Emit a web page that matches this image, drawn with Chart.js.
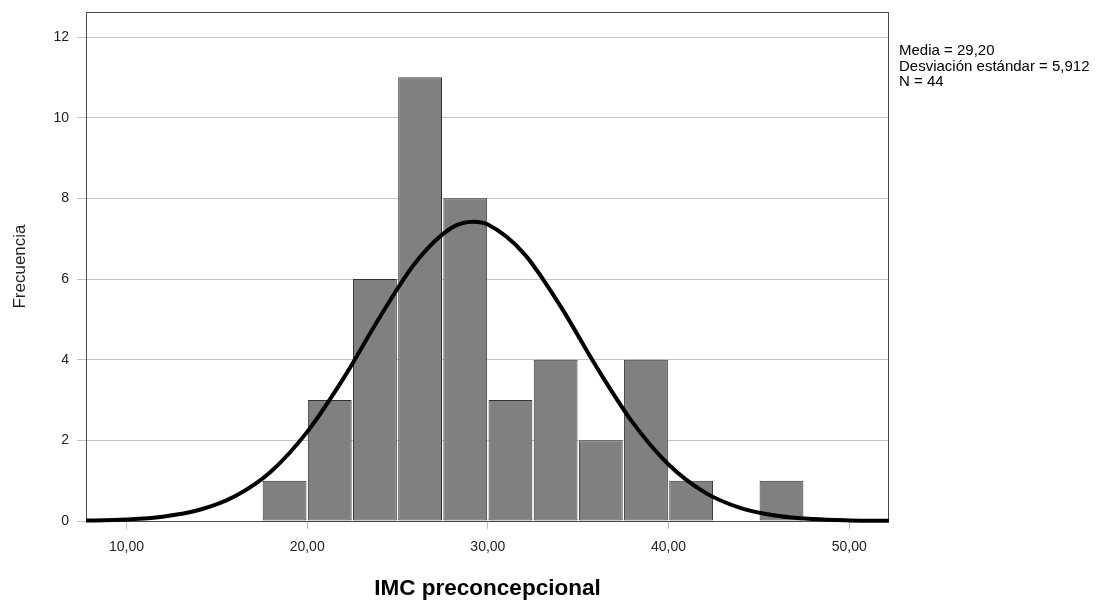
<!DOCTYPE html>
<html>
<head>
<meta charset="utf-8">
<script src="https://cdn.jsdelivr.net/npm/chart.js@4.4.1/dist/chart.umd.min.js"></script>
<style>
  html, body { margin: 0; padding: 0; background: #fff; }
  canvas { display: block; }
</style>
</head>
<body>
<canvas id="c" width="1099" height="603"></canvas>
<script>
// ---- data ----
const binCenters = [18.75, 21.25, 23.75, 26.25, 28.75, 31.25, 33.75, 36.25, 38.75, 41.25, 43.75, 46.25];
const frequencies = [1, 3, 6, 11, 8, 3, 4, 2, 4, 1, 0, 1];
const curveX = [6, 8, 10, 12, 14, 16, 18, 20, 22, 24, 26, 28, 29.2, 30, 32, 34, 36, 38, 40, 42, 44, 46, 48, 50, 52, 54];
const curveY = [0.003, 0.012, 0.038, 0.108, 0.272, 0.614, 1.23, 2.21, 3.53, 5.04, 6.41, 7.27, 7.42, 7.35, 6.63, 5.34, 3.83, 2.45, 1.40, 0.71, 0.32, 0.13, 0.047, 0.015, 0.004, 0.001];
const xTickValues = [10, 20, 30, 40, 50];
const yTickValues = [0, 2, 4, 6, 8, 10, 12];
const statsLines = ['Media = 29,20', 'Desviación estándar = 5,912', 'N = 44'];
const xTitle = 'IMC preconcepcional';
const yTitle = 'Frecuencia';

const FONT = '"Liberation Sans", Arial, sans-serif';

const framePlugin = {
  id: 'frame',
  beforeDatasetsDraw(chart) {
    const {ctx, chartArea: a} = chart;
    ctx.save();
    ctx.strokeStyle = '#4a4a4a';
    ctx.lineWidth = 1;
    ctx.strokeRect(Math.round(a.left) + 0.5, Math.round(a.top) + 0.5,
                   Math.round(a.right - a.left) - 1, Math.round(a.bottom - a.top));
    ctx.restore();
  },
  afterDraw(chart) {
    const {ctx, chartArea: a} = chart;
    ctx.save();
    ctx.fillStyle = '#000';
    ctx.font = '15px ' + FONT;
    ctx.textAlign = 'left';
    ctx.textBaseline = 'alphabetic';
    statsLines.forEach((t, i) => ctx.fillText(t, a.right + 10, 55 + i * 15.5));
    ctx.restore();
  }
};

new Chart(document.getElementById('c'), {
  type: 'bar',
  data: {
    datasets: [
      {
        type: 'line',
        order: 0,
        data: curveX.map((x, i) => ({x: x, y: curveY[i]})),
        borderColor: '#000',
        borderWidth: 4,
        pointRadius: 0,
        fill: false,
        cubicInterpolationMode: 'monotone',
        clip: {left: 0, right: 0, top: 0, bottom: 2}
      },
      {
        type: 'bar',
        order: 1,
        data: binCenters.map((x, i) => ({x: x, y: frequencies[i]})),
        backgroundColor: '#808080',
        borderColor: '#333333',
        borderWidth: 1,
        borderSkipped: false,
        barPercentage: 0.97,
        categoryPercentage: 1.0
      }
    ]
  },
  options: {
    responsive: false,
    animation: false,
    layout: { padding: { left: 0, top: 12, right: 210, bottom: 0 } },
    plugins: { legend: { display: false }, tooltip: { enabled: false } },
    scales: {
      x: {
        type: 'linear',
        min: 7.76,
        max: 52.2,
        offset: false,
        grid: { offset: false, drawOnChartArea: false, tickLength: 8, color: '#bdbdbd' },
        border: { display: false },
        afterBuildTicks: s => { s.ticks = xTickValues.map(v => ({value: v})); },
        afterFit: s => { s.height = 82; s.paddingLeft = 0; s.paddingRight = 0; s.paddingTop = 0; s.paddingBottom = 0; },
        ticks: {
          autoSkip: false, maxRotation: 0, padding: 10, color: '#222',
          font: { family: FONT, size: 14 },
          callback: v => Number(v).toFixed(2).replace('.', ',')
        },
        title: {
          display: true, text: xTitle, color: '#000',
          font: { family: FONT, size: 22.5, weight: 'bold' },
          padding: { top: 0, bottom: 1 }
        }
      },
      y: {
        min: 0,
        max: 12.62,
        grid: { drawOnChartArea: true, tickLength: 9, color: '#c4c4c4' },
        border: { display: false },
        afterBuildTicks: s => { s.ticks = yTickValues.map(v => ({value: v})); },
        afterFit: s => { s.width = 86; s.paddingLeft = 0; s.paddingRight = 0; s.paddingTop = 0; s.paddingBottom = 0; },
        ticks: {
          autoSkip: false, padding: 8, color: '#222',
          font: { family: FONT, size: 14 }
        },
        title: {
          display: true, text: yTitle, color: '#222',
          font: { family: FONT, size: 17 },
          padding: { top: 10, bottom: 0 }
        }
      }
    }
  },
  plugins: [framePlugin]
});
</script>
</body>
</html>
